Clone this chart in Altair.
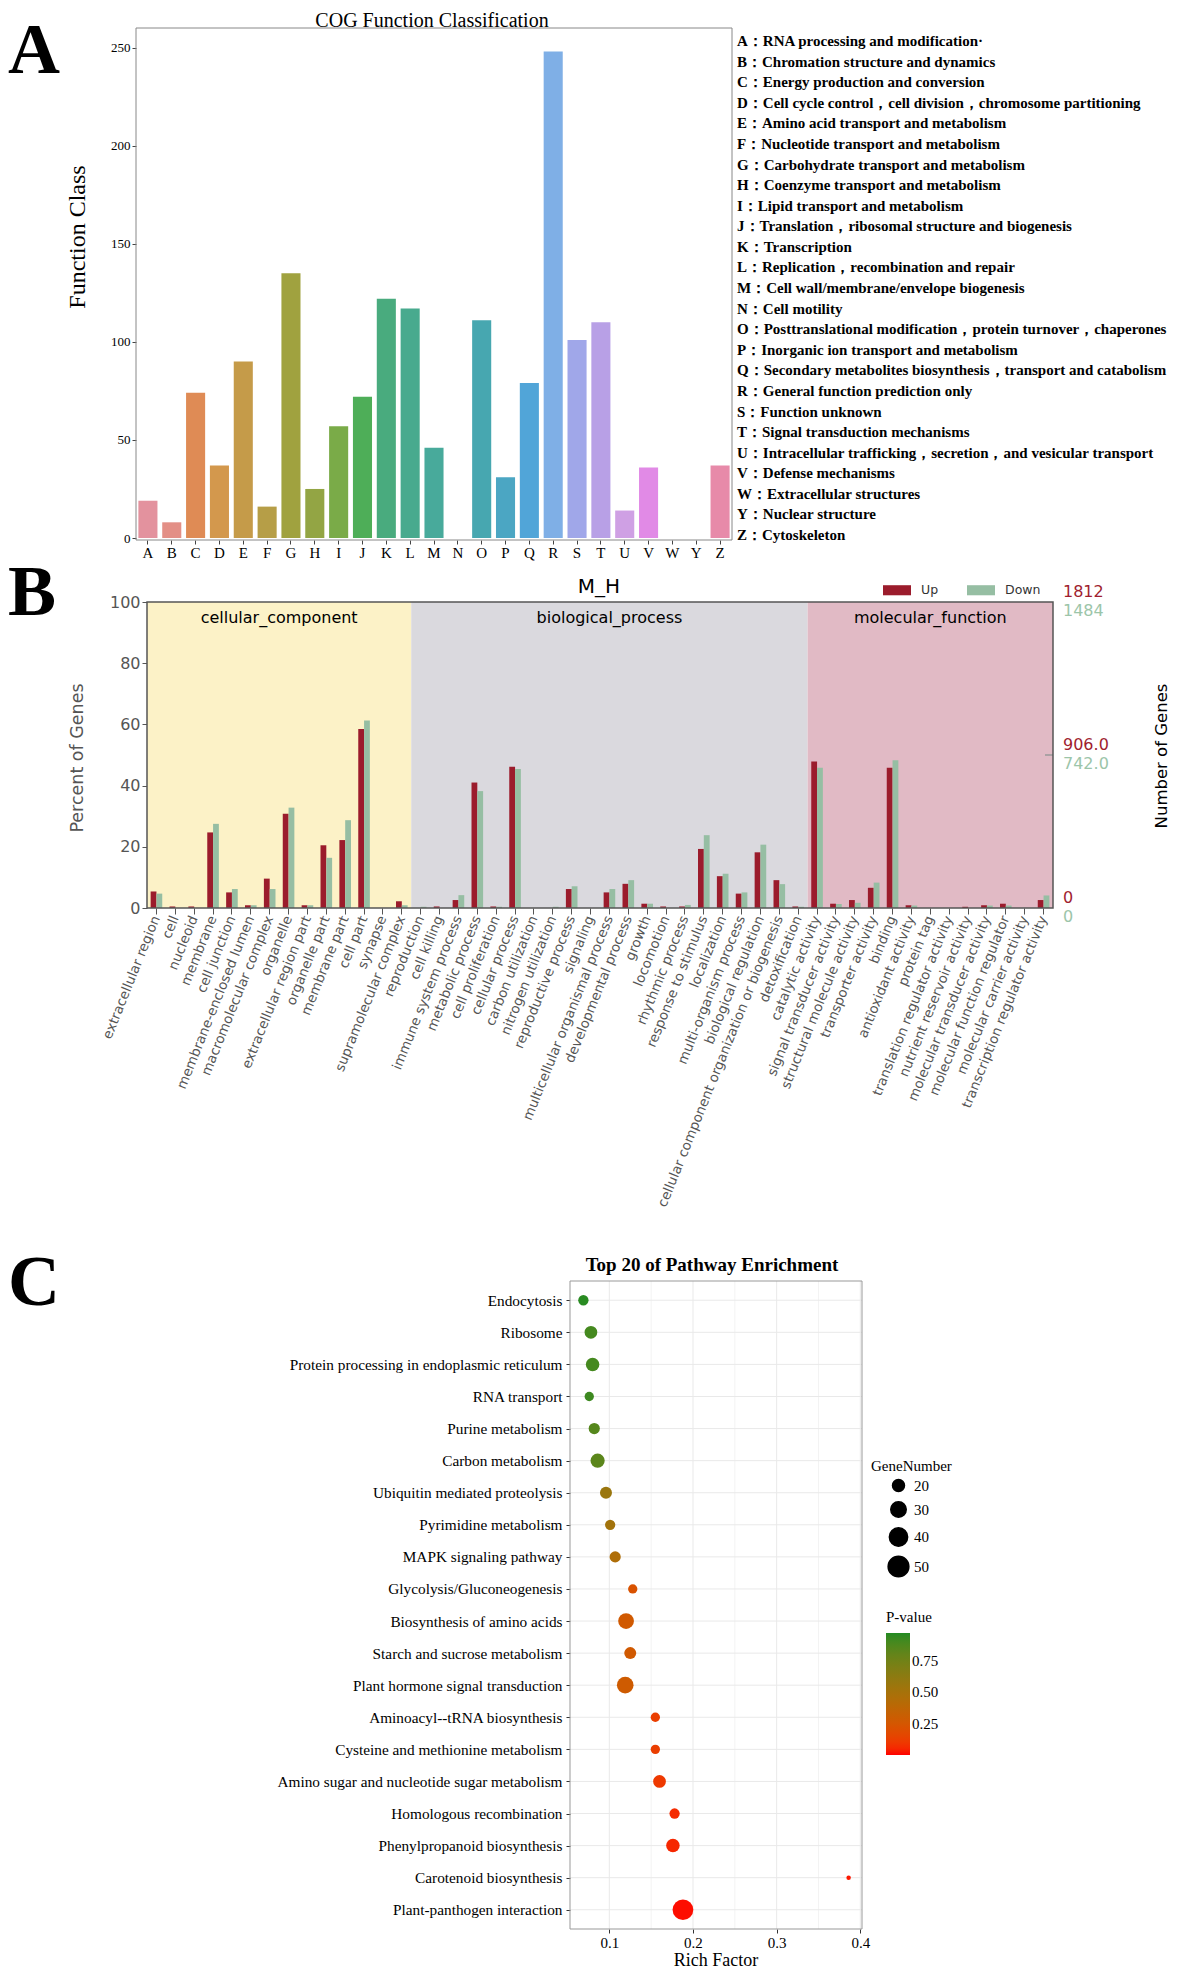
import altair as alt
import pandas as pd

SERIF = "Liberation Serif"
SANS = "DejaVu Sans"

# ---------------- Panel A : COG ----------------
cog_letters = ["A", "B", "C", "D", "E", "F", "G", "H", "I", "J", "K", "L", "M",
               "N", "O", "P", "Q", "R", "S", "T", "U", "V", "W", "Y", "Z"]
cog_counts = [19, 8, 74, 37, 90, 16, 135, 25, 57, 72, 122, 117, 46,
              0, 111, 31, 79, 248, 101, 110, 14, 36, 0, 0, 37]
cog_colors = ["#e3929e", "#e38f86", "#df8b55", "#d3984d", "#c59b49", "#b69e47",
              "#a0a23f", "#93a544", "#7aab48", "#4eae58", "#49ab7e", "#48aa8e",
              "#48aa9b", "#47a8a8", "#47a7b0", "#4ba6c3", "#51a5d8", "#7fafe6",
              "#a0a7e9", "#b8a0e6", "#cfa0e4", "#e18ae6", "#e58bd0", "#e68bbd", "#e78aa9"]
cog_desc = [
    "A：RNA processing and modification·",
    "B：Chromation structure and dynamics",
    "C：Energy production and conversion",
    "D：Cell cycle control，cell division，chromosome partitioning",
    "E：Amino acid transport and metabolism",
    "F：Nucleotide transport and metabolism",
    "G：Carbohydrate transport and metabolism",
    "H：Coenzyme transport and metabolism",
    "I：Lipid transport and metabolism",
    "J：Translation，ribosomal structure and biogenesis",
    "K：Transcription",
    "L：Replication，recombination and repair",
    "M：Cell wall/membrane/envelope biogenesis",
    "N：Cell motility",
    "O：Posttranslational modification，protein turnover，chaperones",
    "P：Inorganic ion transport and metabolism",
    "Q：Secondary metabolites biosynthesis，transport and catabolism",
    "R：General function prediction only",
    "S：Function unknown",
    "T：Signal transduction mechanisms",
    "U：Intracellular trafficking，secretion，and vesicular transport",
    "V：Defense mechanisms",
    "W：Extracellular structures",
    "Y：Nuclear structure",
    "Z：Cytoskeleton",
]
cog_ticks = [0, 50, 100, 150, 200, 250]

# ---------------- Panel B : GO ----------------
go_groups = ["cellular_component", "biological_process", "molecular_function"]
go_group_sizes = [14, 21, 13]
go_group_colors = ["#fcf2c7", "#dad9de", "#e1bac5"]
go_terms = [
    "extracellular region", "cell", "nucleoid", "membrane", "cell junction",
    "membrane-enclosed lumen", "macromolecular complex", "organelle",
    "extracellular region part", "organelle part", "membrane part", "cell part",
    "synapse", "supramolecular complex",
    "reproduction", "cell killing", "immune system process", "metabolic process",
    "cell proliferation", "cellular process", "carbon utilization",
    "nitrogen utilization", "reproductive process", "signaling",
    "multicellular organismal process", "developmental process", "growth",
    "locomotion", "rhythmic process", "response to stimulus", "localization",
    "multi-organism process", "biological regulation",
    "cellular component organization or biogenesis", "detoxification",
    "catalytic activity", "signal transducer activity",
    "structural molecule activity", "transporter activity", "binding",
    "antioxidant activity", "protein tag", "translation regulator activity",
    "nutrient reservoir activity", "molecular transducer activity",
    "molecular function regulator", "molecular carrier activity",
    "transcription regulator activity",
]
go_up = [5.4, 0.5, 0.5, 24.7, 5.1, 0.9, 9.6, 30.8, 0.9, 20.5, 22.2, 58.5, 0, 2.2,
         0, 0.5, 2.6, 41.0, 0.5, 46.2, 0, 0, 6.2, 0, 5.1, 7.9, 1.4, 0.5, 0.5,
         19.3, 10.4, 4.7, 18.2, 9.1, 0.5,
         47.9, 1.4, 2.6, 6.6, 45.8, 0.9, 0, 0, 0.4, 0.9, 1.4, 0, 2.6]
go_down = [4.7, 0, 0, 27.5, 6.2, 0.9, 6.2, 32.8, 0.9, 16.4, 28.7, 61.3, 0, 0.9,
           0.4, 0, 4.2, 38.2, 0.4, 45.4, 0, 0.4, 7.1, 0, 6.2, 9.1, 1.4, 0, 1.0,
           23.8, 11.2, 5.1, 20.7, 7.8, 0.4,
           45.8, 1.3, 1.7, 8.3, 48.3, 0.8, 0, 0, 0, 0.8, 0.8, 0, 4.1]
go_dirs = ["Up", "Down"]
go_dir_colors = ["#9b1c2c", "#96bea3"]
go_ticks = [0, 20, 40, 60, 80, 100]
right_pct = [100, 50, 0]
right_up_labels = ["1812", "906.0", "0"]
right_down_labels = ["1484", "742.0", "0"]

# ---------------- Panel C : KEGG ----------------
pathways = [
    "Endocytosis", "Ribosome", "Protein processing in endoplasmic reticulum",
    "RNA transport", "Purine metabolism", "Carbon metabolism",
    "Ubiquitin mediated proteolysis", "Pyrimidine metabolism",
    "MAPK signaling pathway", "Glycolysis/Gluconeogenesis",
    "Biosynthesis of amino acids", "Starch and sucrose metabolism",
    "Plant hormone signal transduction", "Aminoacyl--tRNA biosynthesis",
    "Cysteine and methionine metabolism",
    "Amino sugar and nucleotide sugar metabolism", "Homologous recombination",
    "Phenylpropanoid biosynthesis", "Carotenoid biosynthesis",
    "Plant-panthogen interaction",
]
rich_factor = [0.069, 0.078, 0.080, 0.076, 0.082, 0.086, 0.096, 0.101, 0.107, 0.128,
               0.120, 0.125, 0.119, 0.155, 0.155, 0.160, 0.178, 0.176, 0.386, 0.188]
gene_number = [16, 22, 24, 14, 18, 26, 20, 16, 18, 14,
               31, 20, 34, 14, 14, 22, 16, 24, 7, 50]
p_values = [0.96, 0.90, 0.90, 0.92, 0.85, 0.83, 0.56, 0.52, 0.45, 0.22,
            0.27, 0.27, 0.28, 0.12, 0.12, 0.10, 0.06, 0.05, 0.02, 0.01]
rich_major = [0.1, 0.2, 0.3, 0.4]
rich_minor = [0.15, 0.25, 0.35]
gene_legend_values = [20, 30, 40, 50]
p_legend_values = [0.25, 0.5, 0.75]

# ---------------- layout (pixels inside the chart area) ----------------
W_TOTAL, H_TOTAL = 1165, 1963
A_L, A_R, A_T, A_B = 128, 724, 20, 532
B_L, B_R, B_T, B_B = 139, 1045, 594, 900
C_L, C_R, C_T, C_B = 562, 854, 1273, 1921


def text_at(s, x, y, **kw):
    return alt.Chart(pd.DataFrame({"t": [s]})).mark_text(**kw).encode(
        x=alt.value(x), y=alt.value(y), text="t:N")


def big_letter(s, y):
    return text_at(s, 0, y, align="left", baseline="alphabetic", font=SERIF,
                   fontWeight="bold", fontSize=72, color="black")


def frame(l, r, t, b, color, width):
    return alt.Chart(pd.DataFrame({"k": [0]})).mark_rect(
        filled=False, stroke=color, strokeWidth=width, fillOpacity=0
    ).encode(x=alt.value(l), x2=alt.value(r), y=alt.value(t), y2=alt.value(b))


# ======== Panel A ========
dfA = pd.DataFrame({"cog": cog_letters, "count": cog_counts})
barsA = alt.Chart(dfA).mark_bar().encode(
    x=alt.X("cog:N", sort=cog_letters,
            scale=alt.Scale(range=[A_L, A_R], paddingInner=0.2, paddingOuter=0.1),
            axis=alt.Axis(orient="bottom", offset=A_B - H_TOTAL, title=None, labelAngle=0,
                          labelFont=SERIF, labelFontSize=15, labelColor="black",
                          tickSize=4, tickColor="#444", domain=False, labelPadding=1)),
    y=alt.Y("count:Q", scale=alt.Scale(domain=[0, 260], range=[A_B - 2, A_T], nice=False),
            axis=alt.Axis(orient="left", offset=-A_L, values=cog_ticks, title=None,
                          labelFont=SERIF, labelFontSize=13, labelColor="black",
                          tickSize=4, tickColor="#444", domain=False, grid=False)),
    color=alt.Color("cog:N", scale=alt.Scale(domain=cog_letters, range=cog_colors),
                    legend=None),
)
dfAleg = pd.DataFrame({"i": list(range(len(cog_desc))), "desc": cog_desc})
legA = alt.Chart(dfAleg).mark_text(
    align="left", baseline="middle", font=SERIF, fontWeight="bold", fontSize=15,
    color="black"
).encode(
    x=alt.value(729),
    y=alt.Y("i:Q", scale=alt.Scale(domain=[0, 24], range=[33, 527], nice=False, zero=False),
            axis=None),
    text="desc:N",
)
panelA = alt.layer(
    barsA, legA,
    frame(A_L, A_R, A_T, A_B, "#888", 1),
    text_at("COG Function Classification", (A_L + A_R) / 2 - 2, 13, font=SERIF,
            fontSize=20, color="black", baseline="middle", align="center"),
    text_at("Function Class", 70, 229, font=SERIF, fontSize=24, color="black",
            baseline="middle", align="center", angle=270),
    big_letter("A", 65),
).resolve_scale(y="independent")

# ======== Panel B ========
rows = []
for t, u, d in zip(go_terms, go_up, go_down):
    rows.append({"term": t, "dir": "Up", "pct": u})
    rows.append({"term": t, "dir": "Down", "pct": d})
dfB = pd.DataFrame(rows)

starts, ends = [], []
acc = 0
for n in go_group_sizes:
    starts.append(acc)
    acc += n
    ends.append(acc)
dfBG = pd.DataFrame({"grp": go_groups, "start": starts, "end": ends,
                     "mid": [(s + e) / 2 for s, e in zip(starts, ends)]})
NT = len(go_terms)
bg_x_scale = alt.Scale(domain=[0, NT], range=[B_L, B_R], nice=False, zero=False)
yB_scale = alt.Scale(domain=[0, 100], range=[B_B, B_T], nice=False)

bgB = alt.Chart(dfBG).mark_rect().encode(
    x=alt.X("start:Q", scale=bg_x_scale, axis=None),
    x2="end:Q",
    y=alt.datum(100), y2=alt.datum(0),
    color=alt.Color("grp:N", scale=alt.Scale(domain=go_groups, range=go_group_colors),
                    legend=None),
)
bgTextB = alt.Chart(dfBG).mark_text(font=SANS, fontSize=16, color="black",
                                     baseline="middle").encode(
    x=alt.X("mid:Q", scale=bg_x_scale, axis=None),
    y=alt.value(B_T + 16),
    text="grp:N",
)
barsB = alt.Chart(dfB).mark_bar().encode(
    x=alt.X("term:N", sort=go_terms,
            scale=alt.Scale(range=[B_L, B_R], paddingInner=0.385, paddingOuter=0.1925),
            axis=alt.Axis(orient="bottom", offset=B_B - H_TOTAL, title=None,
                          labelAngle=-68, labelFont=SANS, labelFontSize=13.5,
                          labelColor="#555", tickSize=6, tickColor="#555", domain=False,
                          labelPadding=2, labelLimit=600, labelOverlap=False)),
    xOffset=alt.XOffset("dir:N", sort=go_dirs,
                        scale=alt.Scale(domain=go_dirs, paddingInner=0, paddingOuter=0)),
    y=alt.Y("pct:Q", scale=yB_scale,
            axis=alt.Axis(orient="left", offset=-B_L, values=go_ticks, title=None,
                          labelFont=SANS, labelFontSize=16, labelColor="#555",
                          tickSize=5, tickColor="#555", domain=False, grid=False)),
    color=alt.Color("dir:N", sort=go_dirs,
                    scale=alt.Scale(domain=go_dirs, range=go_dir_colors),
                    legend=alt.Legend(title=None, orient="none", legendX=875, legendY=568,
                                      direction="horizontal",
                                      symbolType="M-1,-0.36H1V0.36H-1Z", symbolSize=784,
                                      symbolStrokeWidth=0, labelFont=SANS,
                                      labelFontSize=12.5, labelColor="#333",
                                      columnPadding=28, labelOffset=10)),
)
dfR = pd.DataFrame({"pct": right_pct, "up": right_up_labels, "down": right_down_labels})
rUp = alt.Chart(dfR).mark_text(align="left", baseline="middle", font=SANS, fontSize=16,
                               color="#a01e2f", dy=-10).encode(
    x=alt.value(B_R + 10), y=alt.Y("pct:Q"), text="up:N")
rDown = alt.Chart(dfR).mark_text(align="left", baseline="middle", font=SANS, fontSize=16,
                                 color="#9cc5a9", dy=9).encode(
    x=alt.value(B_R + 10), y=alt.Y("pct:Q"), text="down:N")
midTick = alt.Chart(pd.DataFrame({"pct": [50]})).mark_rule(color="#999", strokeWidth=1.5).encode(
    x=alt.value(B_R - 8), x2=alt.value(B_R), y=alt.Y("pct:Q"))

panelB = alt.layer(
    bgB, bgTextB, barsB, rUp, rDown, midTick,
    frame(B_L, B_R, B_T, B_B, "#555", 1.5),
    text_at("M_H", 591, 579, font=SANS, fontSize=20, color="black",
            baseline="middle", align="center"),
    text_at("Percent of Genes", 70, 750, font=SANS, fontSize=17.5, color="#555",
            baseline="middle", align="center", angle=270),
    text_at("Number of Genes", 1154, 748, font=SANS, fontSize=16.5, color="black",
            baseline="middle", align="center", angle=270),
    big_letter("B", 607),
).resolve_scale(x="independent", color="independent")

# ======== Panel C ========
dfC = pd.DataFrame({"path": pathways, "rich": rich_factor, "genes": gene_number,
                    "pval": p_values})
xC_scale = alt.Scale(domain=[0.053, 0.402], range=[C_L, C_R], nice=False, zero=False)
yC_scale = alt.Scale(type="point", padding=0.6, range=[C_T, C_B])

vMajor = alt.Chart(pd.DataFrame({"rich": rich_major})).mark_rule(
    color="#e9e9e9", strokeWidth=1).encode(
    x=alt.X("rich:Q"), y=alt.value(C_T), y2=alt.value(C_B))
vMinor = alt.Chart(pd.DataFrame({"rich": rich_minor})).mark_rule(
    color="#f3f3f3", strokeWidth=1).encode(
    x=alt.X("rich:Q"), y=alt.value(C_T), y2=alt.value(C_B))
hGrid = alt.Chart(dfC).mark_rule(color="#e9e9e9", strokeWidth=1).encode(
    y=alt.Y("path:N", sort=pathways),
    x=alt.value(C_L), x2=alt.value(C_R))
ptsC = alt.Chart(dfC).mark_circle(opacity=1).encode(
    x=alt.X("rich:Q", scale=xC_scale,
            axis=alt.Axis(orient="bottom", offset=C_B - H_TOTAL, values=rich_major,
                          format=".1f", title=None, labelFont=SERIF, labelFontSize=15,
                          labelColor="black", tickSize=4, tickColor="#333",
                          domain=False, grid=False, labelPadding=2)),
    y=alt.Y("path:N", sort=pathways, scale=yC_scale,
            axis=alt.Axis(orient="left", offset=-C_L, title=None, labelFont=SERIF,
                          labelFontSize=15.3, labelColor="black", labelLimit=600,
                          tickSize=4, tickColor="#333", domain=False, grid=False,
                          labelPadding=4)),
    size=alt.Size("genes:Q", scale=alt.Scale(domain=[7, 50], range=[20, 430]),
                  legend=alt.Legend(title="GeneNumber", values=gene_legend_values,
                                    orient="none", legendX=863, legendY=1451,
                                    titleFont=SERIF, titleFontSize=15,
                                    titleFontWeight="normal", titleColor="black",
                                    labelFont=SERIF, labelFontSize=15, labelColor="black",
                                    symbolFillColor="black", symbolStrokeColor="black",
                                    symbolType="circle", symbolOpacity=1, rowPadding=3,
                                    labelOffset=4, titlePadding=4, symbolOffset=16)),
    color=alt.Color("pval:Q",
                    scale=alt.Scale(domain=[0, 0.97], range=["#ff0000", "#228b22"],
                                    interpolate="lab"),
                    legend=alt.Legend(title="P-value", orient="none", legendX=878,
                                      legendY=1602, gradientLength=122,
                                      gradientThickness=24, values=p_legend_values,
                                      format=".2f", direction="vertical",
                                      titleFont=SERIF, titleFontSize=15,
                                      titleFontWeight="normal", titleColor="black",
                                      titlePadding=8, labelFont=SERIF, labelFontSize=15,
                                      labelColor="black", gradientStrokeWidth=0)),
)
panelC = alt.layer(
    vMajor, vMinor, hGrid, ptsC,
    frame(C_L, C_R, C_T, C_B, "#999", 1),
    text_at("Top 20 of Pathway Enrichment", 704, 1257, font=SERIF, fontSize=19,
            fontWeight="bold", color="black", baseline="middle", align="center"),
    text_at("Rich Factor", 708, 1953, font=SERIF, fontSize=18, color="black",
            baseline="middle", align="center"),
    big_letter("C", 1297),
)

chart = alt.layer(panelA, panelB, panelC).resolve_scale(
    x="independent", y="independent", color="independent", size="independent"
).properties(
    width=W_TOTAL, height=H_TOTAL,
    autosize=alt.AutoSizeParams(type="none"),
    padding=0,
).configure(background="white").configure_view(stroke=None)

chart.save("out.html", embed_options={"renderer": "svg", "actions": False})
